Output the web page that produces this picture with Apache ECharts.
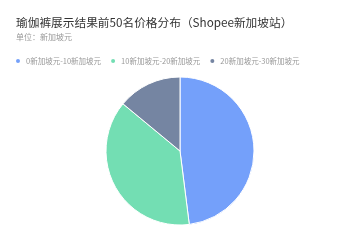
<!DOCTYPE html>
<html><head><meta charset="utf-8">
<script src="https://cdn.jsdelivr.net/npm/echarts@6/dist/echarts.min.js"></script>
<style>html,body{margin:0;padding:0;background:#fff}#c{width:360px;height:242px}</style>
</head><body><div id="c"></div>
<script>
const titleText = '瑜伽裤展示结果前50名价格分布（Shopee新加坡站）';
const subText = '单位：新加坡元';
const categories = ['0新加坡元-10新加坡元', '10新加坡元-20新加坡元', '20新加坡元-30新加坡元'];
const values = [24, 19, 7];
const colors = ['#74A0FA', '#73DEB3', '#7585A2'];

const chart = echarts.init(document.getElementById('c'), null, {renderer: 'canvas'});
chart.setOption({
  animation: false,
  color: colors,
  textStyle: {fontFamily: 'Noto Sans CJK SC'},
  title: {
    text: titleText, subtext: subText, left: 11, top: 12, itemGap: 4,
    textStyle: {fontSize: 11.7, fontWeight: 'normal', color: '#333', fontFamily: 'Noto Sans CJK SC'},
    subtextStyle: {fontSize: 8, color: '#999', fontFamily: 'Noto Sans CJK SC'}
  },
  legend: {
    data: categories, left: 9, top: 52, icon: 'circle', itemWidth: 6, itemHeight: 6, itemGap: 8,
    textStyle: {fontSize: 7.5, color: '#999', fontFamily: 'Noto Sans CJK SC', padding: [0,0,0,0]}
  },
  series: [{
    type: 'pie', center: [180, 151], radius: 74, startAngle: 90, clockwise: true,
    label: {show: false}, labelLine: {show: false},
    itemStyle: {borderColor: '#fff', borderWidth: 1},
    data: categories.map((n, i) => ({name: n, value: values[i]}))
  }]
});
</script></body></html>
